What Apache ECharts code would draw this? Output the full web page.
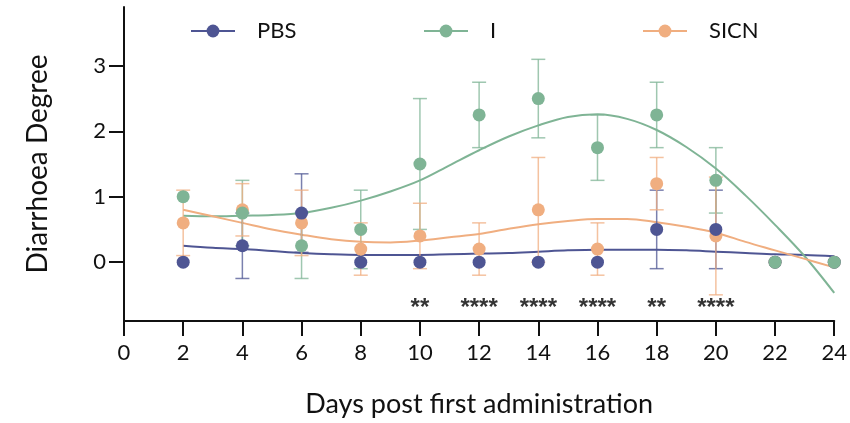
<!DOCTYPE html>
<html>
<head>
<meta charset="utf-8">
<script src="https://cdn.jsdelivr.net/npm/echarts@6/dist/echarts.min.js"></script>
<style>
html,body{margin:0;padding:0;background:#fff;}
#chart{width:850px;height:423px;}
</style>
</head>
<body>
<div id="chart"></div>
<script>
// ---- data ----
const days = [2,4,6,8,10,12,14,16,18,20,22,24];
const pbsMean = [0,0.25,0.75,0,0,0,0,0,0.5,0.5,0,0];
const pbsErr  = [0,0.5,0.6,0,0,0,0,0,0.6,0.6,0,0];
const iMean   = [1,0.75,0.25,0.5,1.5,2.25,2.5,1.75,2.25,1.25,0,0];
const iErr    = [0,0.5,0.5,0.6,1.0,0.5,0.6,0.5,0.5,0.5,0,0];
const sicnMean = [0.6,0.8,0.6,0.2,0.4,0.2,0.8,0.2,1.2,0.4,0,0];
const sicnErr  = [0.5,0.4,0.5,0.4,0.5,0.4,0.8,0.4,0.4,0.9,0,0];

const fitDays = [2,3,4,5,6,7,8,9,10,11,12,13,14,15,16,17,18,19,20,21,22,23,24];
const pbsFit  = [0.25,0.22,0.20,0.17,0.14,0.12,0.11,0.11,0.11,0.12,0.13,0.14,0.16,0.18,0.19,0.19,0.19,0.18,0.16,0.14,0.12,0.11,0.09];
const iFit    = [0.71,0.70,0.71,0.72,0.75,0.83,0.94,1.08,1.25,1.48,1.71,1.92,2.09,2.22,2.26,2.19,2.02,1.76,1.43,1.02,0.57,0.09,-0.47];
const sicnFit = [0.80,0.70,0.60,0.50,0.42,0.35,0.31,0.30,0.33,0.38,0.43,0.51,0.58,0.63,0.66,0.66,0.61,0.54,0.45,0.31,0.18,0.05,-0.08];

const starDays = [10,12,14,16,18,20];
const starText = ['**','****','****','****','**','****'];
const starLevel = -0.6;

const yTicks = [0,1,2,3];

const names = ['PBS','I','SICN'];
const colors = ['#4e5593','#7fb495','#f0ae80'];

// ---- helpers ----
function pairs(xs, ys){ return xs.map((x,i)=>[x, ys[i]]); }
function errData(mean, err){ return days.map((d,i)=>[d, mean[i]-err[i], mean[i]+err[i], mean[i]]); }
function errRender(color){
  return function(params, api){
    const x = api.value(0), lo = api.value(1), hi = api.value(2), m = api.value(3);
    if (hi - lo < 1e-9) return null;
    const pLo = api.coord([x, lo]), pHi = api.coord([x, hi]);
    const hw = 7;
    const style = {stroke: color, lineWidth: 1.5, opacity: 0.75};
    const ch = [{type:'line', shape:{x1:pLo[0],y1:pLo[1],x2:pHi[0],y2:pHi[1]}, style}];
    if (hi > m) ch.push({type:'line', shape:{x1:pHi[0]-hw,y1:pHi[1],x2:pHi[0]+hw,y2:pHi[1]}, style});
    if (lo < m) ch.push({type:'line', shape:{x1:pLo[0]-hw,y1:pLo[1],x2:pLo[0]+hw,y2:pLo[1]}, style});
    return {type:'group', children: ch};
  };
}

const means = [pbsMean, iMean, sicnMean];
const errs = [pbsErr, iErr, sicnErr];
const fits = [pbsFit, iFit, sicnFit];
const markerZ = [4, 5, 3];

const series = [];
names.forEach((n, k) => {
  series.push({
    name: n, type: 'line', data: pairs(fitDays, fits[k]), smooth: 0.35,
    symbol: 'none', color: colors[k],
    lineStyle: {color: colors[k], width: 2}, z: 1, silent: true
  });
  series.push({
    name: n + '_err', type: 'custom', data: errData(means[k], errs[k]),
    renderItem: errRender(colors[k]), z: 2, silent: true
  });
  series.push({
    name: n + '_pts', type: 'scatter', data: pairs(days, means[k]),
    symbol: 'circle', symbolSize: 13, itemStyle: {color: colors[k], opacity: 1},
    z: markerZ[k], silent: true
  });
});
series.push({
  name: 'stars', type: 'scatter', symbolSize: 0, silent: true,
  data: starDays.map((d,i)=>({value:[d, starLevel], label:{formatter: starText[i]}})),
  label: {show: true, position: 'inside', color: '#000', fontSize: 24, fontWeight: 'bold',
          fontFamily: 'Liberation Sans', offset: [0, 7]}
});

function legendAt(name, left){
  return {
    data: [name], left: left, top: 15, itemWidth: 44, itemHeight: 16,
    textStyle: {fontSize: 22, color: '#111', fontFamily: 'Lato', padding: [0,0,0,17]},
    selectedMode: false
  };
}

const chart = echarts.init(document.getElementById('chart'), null, {renderer: 'canvas'});
chart.setOption({
  animation: false,
  backgroundColor: '#fff',
  legend: [legendAt('PBS', 185), legendAt('I', 418), legendAt('SICN', 637)],
  grid: {left: 124, right: 13, top: 7, bottom: 101, containLabel: false},
  xAxis: {
    type: 'value', min: 0, max: 24, interval: 2,
    name: 'Days post first administration', nameLocation: 'middle', nameGap: 70,
    nameTextStyle: {fontSize: 27, color: '#111', fontFamily: 'Lato'},
    axisLine: {onZero: false, lineStyle: {color: '#111', width: 2}},
    axisTick: {length: 15, lineStyle: {color: '#111', width: 2}},
    axisLabel: {fontSize: 22, color: '#111', margin: 21, fontFamily: 'Lato'},
    splitLine: {show: false}
  },
  yAxis: {
    type: 'value', min: -0.9, max: 3.9,
    name: 'Diarrhoea Degree', nameLocation: 'middle', nameGap: 72, nameRotate: 90,
    nameTextStyle: {fontSize: 28, color: '#111', fontFamily: 'Lato'},
    axisLine: {show: true, onZero: false, lineStyle: {color: '#111', width: 2}},
    axisTick: {show: true, length: 15, customValues: yTicks, lineStyle: {color: '#111', width: 2}},
    axisLabel: {fontSize: 22, color: '#111', margin: 18, customValues: yTicks, fontFamily: 'Lato'},
    splitLine: {show: false}
  },
  series: series
});
</script>
</body>
</html>
